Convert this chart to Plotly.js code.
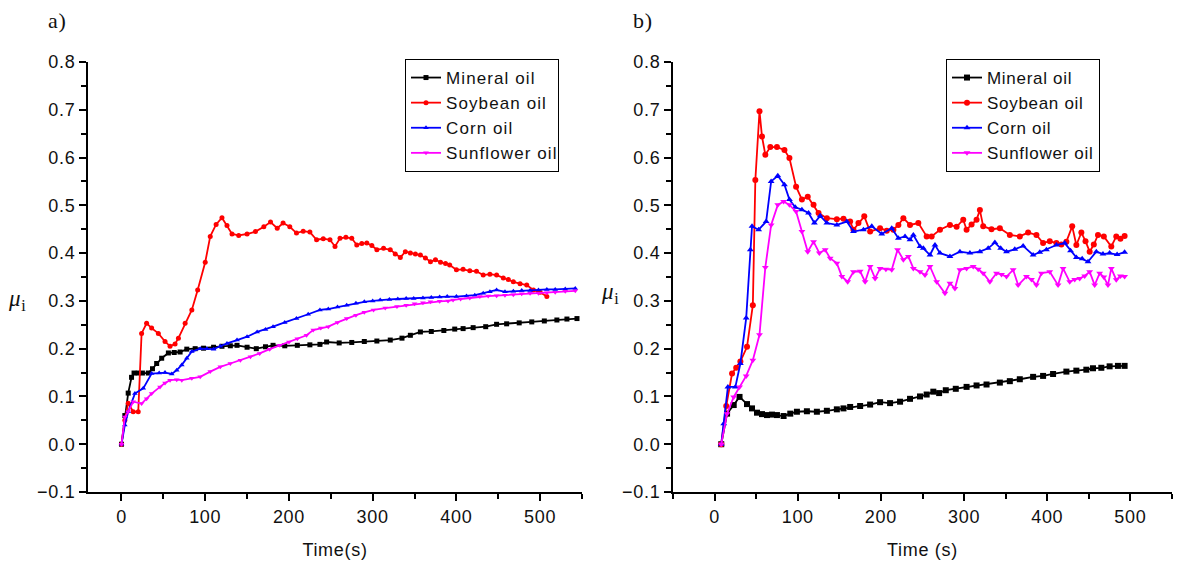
<!DOCTYPE html>
<html>
<head>
<meta charset="utf-8">
<script src="https://cdn.plot.ly/plotly-3.0.1.min.js"></script>
<style>
html,body{margin:0;padding:0;background:#fff;}
#chart{width:1180px;height:570px;}
text{letter-spacing:0.7px;}
.legend text{letter-spacing:1.1px;}
</style>
</head>
<body>
<div id="chart"></div>
<script>
// ---------- Panel a) ----------
const seriesNames = ["Mineral oil", "Soybean oil", "Corn oil", "Sunflower oil"];
const xTitleA = "Time(s)";
const xTitleB = "Time (s)";

const tA_mineral = [0,4,8,12,15,20,25,32,37,42,48,56,63,70,78,88,98,110,120,130,138,150,161,172,181,195,210,225,237,245,260,275,290,305,321,335,345,357,370,385,398,408,420,435,448,460,475,490,505,520,532,544];
const muA_mineral = [0,0.06,0.107,0.14,0.149,0.149,0.149,0.149,0.158,0.169,0.18,0.191,0.192,0.193,0.199,0.2,0.201,0.203,0.205,0.206,0.207,0.203,0.2,0.204,0.207,0.206,0.207,0.208,0.209,0.214,0.212,0.213,0.215,0.216,0.218,0.222,0.228,0.235,0.236,0.238,0.241,0.242,0.244,0.246,0.251,0.252,0.254,0.256,0.258,0.26,0.262,0.263];

const tA_soybean = [0,4,8,14,20,24,30,36,44,52,58,64,68,76,84,91,100,106,113,120,126,132,140,150,160,170,178,186,193,201,209,217,225,233,241,249,255,261,268,275,281,287,293,299,305,313,321,327,333,339,345,351,357,363,369,375,381,387,392,400,408,416,424,432,440,448,456,462,468,476,484,492,500,508];
const muA_soybean = [0,0.05,0.086,0.068,0.068,0.232,0.253,0.243,0.232,0.215,0.205,0.21,0.222,0.253,0.281,0.323,0.381,0.435,0.46,0.474,0.458,0.44,0.437,0.44,0.445,0.455,0.465,0.452,0.463,0.455,0.442,0.446,0.444,0.428,0.43,0.428,0.414,0.431,0.433,0.431,0.417,0.42,0.421,0.416,0.407,0.41,0.407,0.398,0.391,0.403,0.4,0.398,0.396,0.39,0.382,0.386,0.381,0.378,0.375,0.365,0.366,0.363,0.362,0.354,0.356,0.354,0.348,0.345,0.34,0.336,0.333,0.323,0.318,0.309];

const tA_corn = [0,4,8,16,26,36,45,52,60,66,72,78,84,94,102,110,118,126,138,150,162,172,181,195,209,223,237,247,258,269,280,290,300,309,320,330,340,349,360,370,380,389,400,412,422,432,440,448,458,468,478,488,498,508,518,530,542];
const muA_corn = [0,0.04,0.068,0.106,0.117,0.148,0.149,0.15,0.147,0.155,0.166,0.18,0.194,0.2,0.2,0.199,0.205,0.211,0.218,0.225,0.235,0.24,0.246,0.255,0.263,0.272,0.281,0.283,0.287,0.291,0.295,0.298,0.3,0.302,0.303,0.304,0.305,0.305,0.306,0.307,0.308,0.309,0.309,0.31,0.312,0.316,0.319,0.323,0.319,0.32,0.322,0.322,0.323,0.324,0.324,0.325,0.326];

const tA_sunflower = [0,4,8,14,24,30,36,46,52,58,66,72,84,94,106,118,130,142,154,165,177,189,200,210,221,229,238,247,258,269,280,290,301,315,329,340,350,360,369,380,390,396,405,416,428,438,448,458,468,478,488,498,508,518,530,542];
const muA_sunflower = [0,0.057,0.068,0.089,0.085,0.095,0.106,0.12,0.128,0.134,0.135,0.134,0.138,0.141,0.152,0.162,0.169,0.176,0.183,0.19,0.199,0.207,0.214,0.221,0.228,0.239,0.243,0.246,0.255,0.263,0.27,0.276,0.281,0.285,0.288,0.291,0.294,0.296,0.298,0.299,0.3,0.302,0.304,0.306,0.309,0.31,0.311,0.312,0.313,0.315,0.316,0.316,0.317,0.318,0.32,0.321];

// ---------- Panel b) ----------
const tB_mineral = [8,15,23,30,39,45,51,57,63,69,75,83,91,99,111,123,135,147,155,163,175,187,199,211,223,235,247,255,263,270,278,290,303,315,327,343,355,367,383,395,407,423,435,447,455,465,475,485,493];
const muB_mineral = [0,0.064,0.082,0.099,0.084,0.075,0.066,0.063,0.061,0.062,0.061,0.059,0.064,0.068,0.069,0.068,0.07,0.073,0.075,0.078,0.08,0.083,0.088,0.086,0.089,0.095,0.1,0.104,0.11,0.107,0.113,0.116,0.12,0.123,0.125,0.129,0.132,0.136,0.141,0.143,0.147,0.152,0.154,0.156,0.159,0.16,0.163,0.164,0.164];

const tB_soybean = [8,14,21,26,31,39,46,49,54,57,61,67,75,84,90,98,105,112,119,125,135,147,155,163,167,173,180,187,199,207,215,221,227,235,245,255,261,271,283,291,299,303,309,315,319,323,333,343,355,367,377,387,395,403,411,417,423,430,435,441,446,451,456,461,468,477,483,488,493];
const muB_soybean = [0,0.08,0.148,0.16,0.173,0.204,0.291,0.553,0.697,0.644,0.606,0.622,0.622,0.616,0.599,0.539,0.512,0.518,0.501,0.484,0.473,0.471,0.472,0.466,0.449,0.463,0.477,0.445,0.452,0.447,0.449,0.459,0.473,0.459,0.463,0.435,0.435,0.449,0.459,0.455,0.47,0.449,0.46,0.47,0.49,0.456,0.45,0.452,0.438,0.435,0.443,0.438,0.421,0.425,0.421,0.418,0.424,0.456,0.417,0.443,0.425,0.403,0.418,0.438,0.435,0.414,0.435,0.43,0.436];

const tB_corn = [8,11,16,25,31,38,43,45,53,62,68,76,84,90,97,105,113,120,127,135,147,159,167,179,189,201,213,221,229,235,239,247,251,259,265,271,283,295,307,319,329,337,344,351,361,371,383,391,399,411,421,428,435,442,449,459,467,475,484,493];
const muB_corn = [0,0.043,0.12,0.12,0.169,0.264,0.407,0.456,0.449,0.466,0.55,0.562,0.543,0.512,0.496,0.491,0.484,0.463,0.478,0.463,0.459,0.466,0.445,0.449,0.456,0.44,0.452,0.431,0.435,0.428,0.438,0.414,0.41,0.396,0.417,0.4,0.393,0.403,0.4,0.403,0.41,0.422,0.41,0.403,0.408,0.415,0.396,0.402,0.407,0.417,0.421,0.405,0.391,0.388,0.382,0.403,0.398,0.4,0.397,0.402];

const tB_sunflower = [8,15,23,30,38,46,54,61,68,76,83,90,98,105,112,119,126,133,139,147,153,160,167,175,181,187,193,199,206,213,220,227,233,239,247,253,259,267,277,283,289,295,303,311,317,323,331,339,345,351,359,365,375,381,387,393,403,413,419,427,433,439,445,451,457,463,468,473,477,483,488,493];
const muB_sunflower = [0,0.064,0.099,0.12,0.143,0.176,0.229,0.37,0.459,0.501,0.508,0.501,0.487,0.445,0.403,0.424,0.4,0.407,0.389,0.379,0.351,0.34,0.361,0.362,0.34,0.372,0.347,0.368,0.366,0.365,0.407,0.386,0.393,0.368,0.361,0.354,0.372,0.34,0.316,0.337,0.326,0.365,0.368,0.372,0.366,0.358,0.34,0.358,0.355,0.351,0.365,0.333,0.351,0.345,0.333,0.358,0.361,0.333,0.368,0.34,0.345,0.347,0.352,0.361,0.333,0.358,0.35,0.333,0.368,0.344,0.352,0.351];

// ---------- styles ----------
const colors = ["#000000", "#ff0000", "#0000ff", "#ff00ff"];
const symbols = ["square", "circle", "triangle-up", "triangle-down"];
const FONT = "Liberation Sans, Arial, sans-serif";

const dataA = [[tA_mineral, muA_mineral], [tA_soybean, muA_soybean], [tA_corn, muA_corn], [tA_sunflower, muA_sunflower]];
const dataB = [[tB_mineral, muB_mineral], [tB_soybean, muB_soybean], [tB_corn, muB_corn], [tB_sunflower, muB_sunflower]];

const traces = [];
dataA.forEach((d, i) => traces.push({
  x: d[0], y: d[1], name: seriesNames[i], type: "scatter", mode: "lines+markers",
  xaxis: "x", yaxis: "y", legend: "legend",
  line: {color: colors[i], width: 1.8},
  marker: {color: colors[i], symbol: symbols[i], size: 5}
}));
dataB.forEach((d, i) => traces.push({
  x: d[0], y: d[1], name: seriesNames[i], type: "scatter", mode: "lines+markers",
  xaxis: "x2", yaxis: "y2", legend: "legend2",
  line: {color: colors[i], width: 1.8},
  marker: {color: colors[i], symbol: symbols[i], size: 6}
}));

function xAxis(domain, range, title, anchor) {
  return {
    domain: domain, range: range, anchor: anchor,
    showline: true, linecolor: "#000", linewidth: 2,
    showgrid: false, zeroline: false,
    ticks: "outside", ticklen: 7, tickwidth: 2, tickcolor: "#000",
    tick0: 0, dtick: 100,
    minor: {ticks: "outside", ticklen: 5, tickwidth: 2, tickcolor: "#000", dtick: 50, tick0: 0, showgrid: false},
    tickfont: {family: FONT, size: 18, color: "#111"},
    title: {text: title, font: {family: FONT, size: 18, color: "#111"}, standoff: 18}
  };
}
function yAxis(anchor) {
  return {
    domain: [1 - 492/570, 1 - 62/570], range: [-0.1, 0.8], anchor: anchor,
    showline: true, linecolor: "#000", linewidth: 2,
    showgrid: false, zeroline: false,
    ticks: "outside", ticklen: 7, tickwidth: 2, tickcolor: "#000",
    tick0: 0, dtick: 0.1, tickformat: ".1f",
    minor: {ticks: "outside", ticklen: 5, tickwidth: 2, tickcolor: "#000", dtick: 0.05, tick0: 0, showgrid: false},
    tickfont: {family: FONT, size: 18, color: "#111"}
  };
}

const legendStyle = (x) => ({
  x: x, y: 1 - 59/570, xanchor: "left", yanchor: "top",
  xref: "paper", yref: "paper",
  bgcolor: "#fff", bordercolor: "#000", borderwidth: 1,
  font: {family: FONT, size: 17, color: "#111"},
  tracegroupgap: 0
});

const layout = {
  width: 1180, height: 570,
  margin: {l: 0, r: 0, t: 0, b: 0},
  paper_bgcolor: "#fff", plot_bgcolor: "#fff",
  showlegend: true,
  xaxis: xAxis([88/1180, 582/1180], [-40, 550], xTitleA, "y"),
  yaxis: yAxis("x"),
  xaxis2: xAxis([673/1180, 1172/1180], [-50, 550], xTitleB, "y2"),
  yaxis2: yAxis("x2"),
  legend: legendStyle(405/1180),
  legend2: legendStyle(946/1180),
  annotations: [
    {text: "a)", x: 46/1180, y: 1 - 20/570, xref: "paper", yref: "paper", xanchor: "left", yanchor: "middle", showarrow: false,
     font: {family: "Liberation Serif, serif", size: 22, color: "#111"}},
    {text: "b)", x: 631/1180, y: 1 - 20/570, xref: "paper", yref: "paper", xanchor: "left", yanchor: "middle", showarrow: false,
     font: {family: "Liberation Serif, serif", size: 22, color: "#111"}},
    {text: "<i>μ</i><sub>i</sub>", x: 6/1180, y: 1 - 300/570, xref: "paper", yref: "paper", xanchor: "left", yanchor: "middle", showarrow: false,
     font: {family: "Liberation Serif, serif", size: 23, color: "#111"}},
    {text: "<i>μ</i><sub>i</sub>", x: 599/1180, y: 1 - 293/570, xref: "paper", yref: "paper", xanchor: "left", yanchor: "middle", showarrow: false,
     font: {family: "Liberation Serif, serif", size: 23, color: "#111"}}
  ]
};

Plotly.newPlot("chart", traces, layout, {displayModeBar: false, staticPlot: true});
</script>
</body>
</html>
